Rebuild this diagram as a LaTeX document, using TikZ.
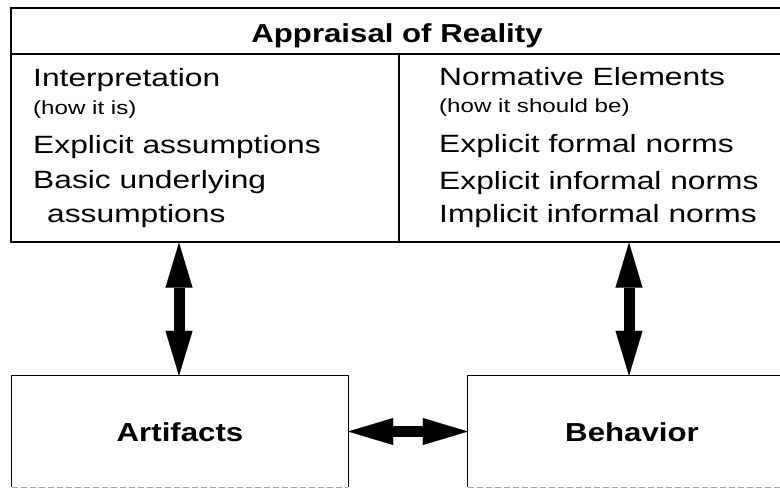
\documentclass[tikz,border=0pt]{standalone}
\usepackage{fontspec}
\setmainfont{Liberation Sans}
\newfontfamily\wf[FakeStretch=1.27]{Liberation Sans}
\newfontfamily\wfb[FakeStretch=1.2]{Liberation Sans}
\usetikzlibrary{arrows.meta}
\begin{document}
\begin{tikzpicture}[x=1pt,y=-1pt,
  boxline/.style={draw=black,line width=1.2pt},
  faint/.style={draw=black!35,line width=0.8pt,dash pattern=on 6pt off 3pt},
  dbl/.style={line width=11pt,
    {Triangle[length=45pt,width=27pt,line width=0.1pt]}-{Triangle[length=45pt,width=27pt,line width=0.1pt]}},
  big/.style={font=\wf\fontsize{25}{30}\selectfont,anchor=base west,inner sep=0pt},
  small/.style={font=\wf\fontsize{19}{22}\selectfont,anchor=base west,inner sep=0pt},
  head/.style={font=\wfb\bfseries\fontsize{26}{30}\selectfont,anchor=base,inner sep=0pt}]
\useasboundingbox (0,0) rectangle (780,488);
\clip (0,0) rectangle (780,488);
% top box
\node[boxline, minimum width=789pt, minimum height=234pt, inner sep=0pt] (top) at (405.5,125) {};
\coordinate (d1) at (399,54);
\draw[boxline] (top.west |- d1) -- (top.east |- d1);
\draw[boxline] (d1) -- (d1 |- top.south);
\node[head] (title) at (397,42) {Appraisal of Reality};
\node[big] (interp) at (33,86) {Interpretation};
\node[small] (howis) at (33,114) {(how it is)};
\node[big] (expa) at (33,153) {Explicit assumptions};
\node[big] (basic) at (33,188) {Basic underlying};
\node[big] (assum) at (47,222) {assumptions};
\node[big] (norm) at (439,85) {Normative Elements};
\node[small] (howsh) at (439,112) {(how it should be)};
\node[big] (eff) at (439,152) {Explicit formal norms};
\node[big] (eif) at (439,189) {Explicit informal norms};
\node[big] (iif) at (439,222) {Implicit informal norms};
% bottom boxes
\node[minimum width=336pt, minimum height=111pt, inner sep=0pt] (art) at (180,431.5) {};
\node[minimum width=332pt, minimum height=111pt, inner sep=0pt] (beh) at (634,431.5) {};
\draw[boxline] (art.south west) |- (art.north east) -- (art.south east);
\draw[boxline] (beh.south west) |- (beh.north east) -- (beh.south east);
\draw[faint] (art.south west) -- (art.south east);
\draw[faint] (beh.south west) -- (beh.south east);
\node[head] (artl) at (180,441) {Artifacts};
\node[head] (behl) at (632,441) {Behavior};
% arrows
\coordinate (la) at (179,0);
\coordinate (ra) at (629,0);
\draw[dbl] (top.south -| la) -- (art.north -| la);
\draw[dbl] (top.south -| ra) -- (beh.north -| ra);
\draw[dbl] (art.east) -- (beh.west);
\end{tikzpicture}
\end{document}
